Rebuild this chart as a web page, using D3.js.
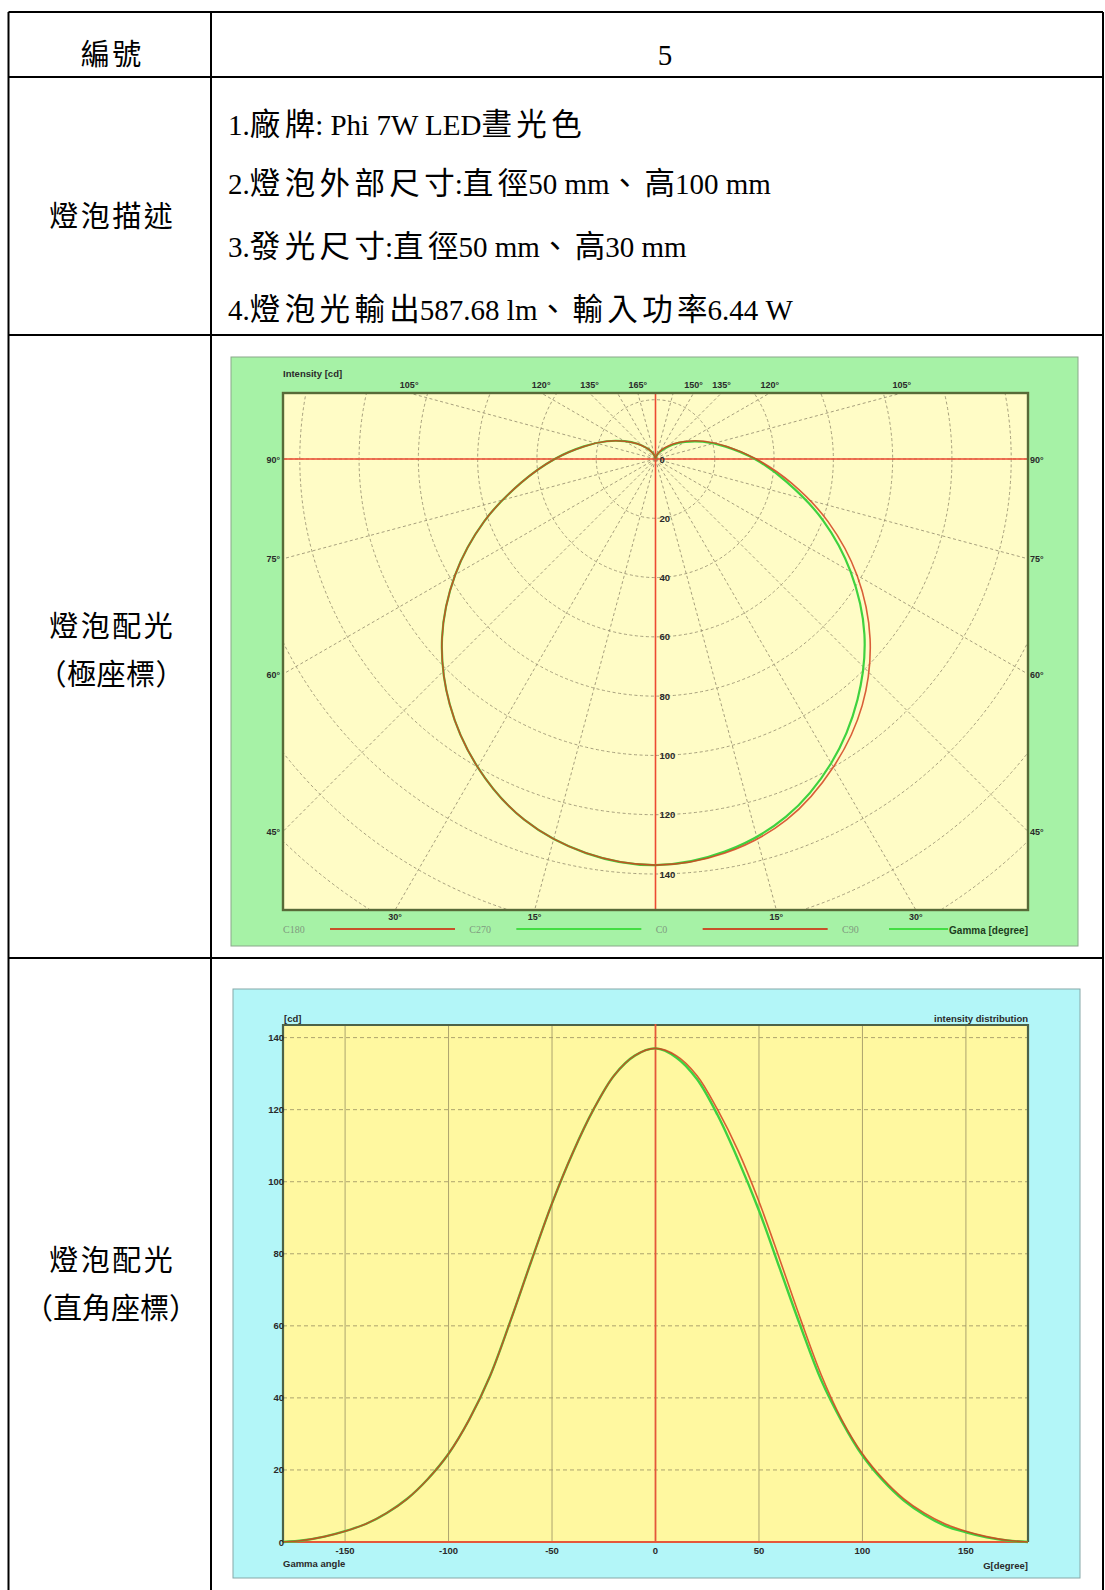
<!DOCTYPE html>
<html>
<head>
<meta charset="utf-8">
<script src="https://cdn.jsdelivr.net/npm/d3@7"></script>
<style>
  html, body { margin: 0; padding: 0; background: #ffffff; }
  svg { display: block; }
  .cell { font-family: "Liberation Serif", "Noto Sans CJK TC", serif; fill: #000; }
  .lab  { font-family: "Liberation Sans", Arial, sans-serif; font-weight: bold; fill: #2a2a2a; }
</style>
</head>
<body>
<svg id="page" width="1105" height="1590"></svg>
<script>
// ---------- table content ----------
const numberLabel = "編號";
const numberValue = "5";
const descLabel = "燈泡描述";
const descLines = [
  "1.廠牌: Phi 7W LED晝光色",
  "2.燈泡外部尺寸:直徑50 mm、高100 mm",
  "3.發光尺寸:直徑50 mm、高30 mm",
  "4.燈泡光輸出587.68 lm、輸入功率6.44 W"
];
const polarRowLabel = ["燈泡配光", "（極座標）"];
const cartRowLabel = ["燈泡配光", "（直角座標）"];

// ---------- luminous intensity (cd) vs gamma angle (deg) ----------
const gammaAngles   = [0, 10, 20, 30, 40, 50, 60, 70, 80, 90, 100, 110, 120, 130, 140, 150, 160, 170, 180];
const intensityC0   = [137, 135, 129.5, 120, 108.5, 94.5, 78.5, 62, 46.5, 34, 24.5, 17.5, 12, 8, 5, 3, 1.5, 0.5, 0];
const intensityC180 = [137, 135, 129.5, 120, 108, 94, 78, 61.5, 46, 34, 24.5, 17.5, 12, 8, 5, 3, 1.5, 0.5, 0];
const intensityC90  = [137, 134.5, 128.5, 118.5, 106, 92, 76, 60, 45, 33.5, 24, 17, 11.5, 7.5, 4.5, 2.7, 1.3, 0.4, 0];
const intensityC270 = [137, 135, 129.5, 120, 108, 94, 78, 61.5, 46, 34, 24.5, 17.5, 12, 8, 5, 3, 1.5, 0.5, 0];

// polar chart ticks
const radialTicks = [0, 20, 40, 60, 80, 100, 120, 140];
const gridRadii = [20, 40, 60, 80, 100, 120, 140, 160, 180, 200];
const spokeAngles = d3.range(0, 360, 15);
const leftEdgeAngles = [90, 75, 60, 45];
const bottomAngles = [30, 15];
const topLeftAngles = [105, 120, 135, 165];
const topRightAngles = [150, 135, 120, 105];
const legendItems = [
  { name: "C180", plane: "red" },
  { name: "C270", plane: "green" },
  { name: "C0",   plane: "red" },
  { name: "C90",  plane: "green" }
];

// cartesian chart ticks
const xTicks = [-150, -100, -50, 0, 50, 100, 150];
const yTicks = [0, 20, 40, 60, 80, 100, 120, 140];

const RED = "#d2421e", GREEN = "#3fd23f";

const svg = d3.select("#page");

// ---------- table grid ----------
const T = { left: 8.5, right: 1103, top: 12, col: 211, rows: [77, 335, 958], bottom: 1590 };
const grid = svg.append("g").attr("stroke", "#000").attr("stroke-width", 2);
grid.append("line").attr("x1", T.left).attr("x2", T.right).attr("y1", T.top).attr("y2", T.top);
T.rows.forEach(y => grid.append("line").attr("x1", T.left).attr("x2", T.right).attr("y1", y).attr("y2", y));
[T.left, T.col, T.right].forEach(x => grid.append("line").attr("x1", x).attr("x2", x).attr("y1", T.top).attr("y2", T.bottom));

// Latin and CJK runs are set separately: CJK slightly larger and tracked out
// between its own glyphs, Latin at the body size.
const FS = 29;
const IS_CJK = /[\u3000-\u9fff\uff00-\uffef]/;
const RUNS = /[\u3000-\u9fff\uff00-\uffef]+|[^\u3000-\u9fff\uff00-\uffef]+/g;
function cellText(x, y, str, anchor, cjkSize, track) {
  const t = svg.append("text").attr("class", "cell").attr("x", x).attr("y", y)
    .attr("font-size", FS).attr("text-anchor", anchor || "middle");
  str.match(RUNS).forEach(run => {
    if (!IS_CJK.test(run)) { t.append("tspan").text(run); return; }
    const chars = Array.from(run);
    if (chars.length > 1) {
      t.append("tspan").attr("font-size", cjkSize).attr("letter-spacing", track).text(chars.slice(0, -1).join(""));
    }
    t.append("tspan").attr("font-size", cjkSize).text(chars[chars.length - 1]);
  });
}
cellText(111, 65, numberLabel, "middle", 29, 2.5);
cellText(665, 65, numberValue);
cellText(111, 227, descLabel, "middle", 29, 2.5);
descLines.forEach((s, i) => cellText(228, [134.5, 194, 256.5, 319.5][i], s, "start", 30.5, 4.4));
cellText(111, 637, polarRowLabel[0], "middle", 29, 2.5);
cellText(111, 685, polarRowLabel[1], "middle", 29, 0.5);
cellText(111, 1271, cartRowLabel[0], "middle", 29, 2.5);
cellText(111, 1319, cartRowLabel[1], "middle", 29, 0);

// a whole C-plane: negative gamma from the first half-plane, positive from the second
function planeSeries(neg, pos) {
  const left = gammaAngles.slice(1).map((a, i) => [-a, neg[i + 1]]).reverse();
  const right = gammaAngles.map((a, i) => [a, pos[i]]);
  return left.concat(right);
}

// ---------- polar intensity diagram ----------
(function () {
  const panel = { x0: 231, x1: 1078, y0: 357, y1: 946 };
  const P = { x0: 283, x1: 1028, y0: 393, y1: 910 };
  const cx = (P.x0 + P.x1) / 2, cy = 459;
  const r = d3.scaleLinear().domain([0, 140]).range([0, 415]);
  const g = svg.append("g");

  g.append("rect").attr("x", panel.x0).attr("y", panel.y0)
    .attr("width", panel.x1 - panel.x0).attr("height", panel.y1 - panel.y0)
    .attr("fill", "#a6f2a6").attr("stroke", "#8aa88a").attr("stroke-width", 1);
  g.append("rect").attr("x", P.x0).attr("y", P.y0).attr("width", P.x1 - P.x0).attr("height", P.y1 - P.y0)
    .attr("fill", "#fffcc6");

  svg.append("defs").append("clipPath").attr("id", "polarClip")
    .append("rect").attr("x", P.x0).attr("y", P.y0).attr("width", P.x1 - P.x0).attr("height", P.y1 - P.y0);
  const inner = g.append("g").attr("clip-path", "url(#polarClip)");

  // concentric intensity circles
  inner.selectAll("circle.grid").data(gridRadii).join("circle")
    .attr("cx", cx).attr("cy", cy).attr("r", d => r(d))
    .attr("fill", "none").attr("stroke", "#9c9474").attr("stroke-width", 0.9).attr("stroke-dasharray", "3,2.5");
  // gamma spokes
  inner.selectAll("line.spoke").data(spokeAngles).join("line")
    .attr("x1", cx).attr("y1", cy)
    .attr("x2", d => cx + 1200 * Math.sin(d * Math.PI / 180))
    .attr("y2", d => cy + 1200 * Math.cos(d * Math.PI / 180))
    .attr("stroke", "#9c9474").attr("stroke-width", 0.9).attr("stroke-dasharray", "3,2.5");

  // red axes
  inner.append("line").attr("x1", P.x0).attr("x2", P.x1).attr("y1", cy).attr("y2", cy)
    .attr("stroke", "#ec4a32").attr("stroke-width", 1.6);
  inner.append("line").attr("x1", cx).attr("x2", cx).attr("y1", P.y0).attr("y2", P.y1)
    .attr("stroke", "#ec4a32").attr("stroke-width", 1.6);

  // intensity curves, gamma measured from nadir, one continuous path per C-plane
  const rad = a => a * Math.PI / 180;
  const radial = d3.lineRadial()
    .angle(d => Math.PI - rad(d[0]))
    .radius(d => r(d[1]))
    .curve(d3.curveCatmullRom.alpha(0.5));
  const curves = inner.append("g").attr("transform", `translate(${cx},${cy})`).attr("fill", "none");
  curves.append("path").attr("d", radial(planeSeries(intensityC270, intensityC90)))
    .attr("stroke", GREEN).attr("stroke-width", 2.2);
  curves.append("path").attr("d", radial(planeSeries(intensityC180, intensityC0)))
    .attr("stroke", RED).attr("stroke-width", 1.6).attr("opacity", 0.85);

  g.append("rect").attr("x", P.x0).attr("y", P.y0).attr("width", P.x1 - P.x0).attr("height", P.y1 - P.y0)
    .attr("fill", "none").attr("stroke", "#586a38").attr("stroke-width", 2.4);

  // radial value labels
  g.selectAll("text.rv").data(radialTicks).join("text").attr("class", "lab")
    .attr("font-size", 9.5).attr("x", cx + 4).attr("y", d => cy + r(d) + 3.5).text(d => d);

  // gamma labels where the spokes meet the frame
  function hit(a, side) {
    const dx = side * Math.sin(rad(a)), dy = Math.cos(rad(a));
    const ts = [];
    if (dx > 1e-9) ts.push((P.x1 - cx) / dx);
    if (dx < -1e-9) ts.push((P.x0 - cx) / dx);
    if (dy > 1e-9) ts.push((P.y1 - cy) / dy);
    if (dy < -1e-9) ts.push((P.y0 - cy) / dy);
    const t = Math.min(...ts);
    return [cx + t * dx, cy + t * dy];
  }
  const deg = d => d + "°";
  leftEdgeAngles.forEach(a => {
    const [, y] = hit(a, -1);
    g.append("text").attr("class", "lab").attr("font-size", 9).attr("text-anchor", "end")
      .attr("x", P.x0 - 3).attr("y", y + 3.5).text(deg(a));
    const [, y2] = hit(a, 1);
    g.append("text").attr("class", "lab").attr("font-size", 9).attr("text-anchor", "start")
      .attr("x", P.x1 + 2).attr("y", y2 + 3.5).text(deg(a));
  });
  [-1, 1].forEach(side => bottomAngles.forEach(a => {
    const [x] = hit(a, side);
    g.append("text").attr("class", "lab").attr("font-size", 9).attr("text-anchor", "middle")
      .attr("x", x).attr("y", P.y1 + 10).text(deg(a));
  }));
  topLeftAngles.forEach(a => {
    const [x] = hit(a, -1);
    g.append("text").attr("class", "lab").attr("font-size", 9).attr("text-anchor", "middle")
      .attr("x", x).attr("y", P.y0 - 5).text(deg(a));
  });
  topRightAngles.forEach(a => {
    const [x] = hit(a, 1);
    g.append("text").attr("class", "lab").attr("font-size", 9).attr("text-anchor", "middle")
      .attr("x", x).attr("y", P.y0 - 5).text(deg(a));
  });

  g.append("text").attr("class", "lab").attr("font-size", 9.5).attr("x", P.x0).attr("y", 377).text("Intensity [cd]");

  // legend
  const lx = d3.scalePoint().domain(legendItems.map(d => d.name)).range([283, 842]);
  legendItems.forEach(d => {
    const x = lx(d.name);
    g.append("line").attr("x1", x + 47).attr("x2", x + 172).attr("y1", 929).attr("y2", 929)
      .attr("stroke", d.plane === "red" ? "#c8502a" : "#44dd44").attr("stroke-width", 1.8);
    g.append("text").attr("x", x).attr("y", 933).attr("font-size", 10)
      .attr("font-family", "Liberation Serif, serif").attr("fill", "#7f9a7f").text(d.name);
  });
  const gt = g.append("text").attr("class", "lab").attr("font-size", 10).attr("text-anchor", "end")
    .attr("x", P.x1).attr("y", 934).style("fill", "#1d3d1d").text("Gamma [degree]");
  const bb = gt.node().getBBox();
  g.insert("rect", () => gt.node()).attr("x", bb.x - 1).attr("y", bb.y).attr("width", bb.width + 2).attr("height", bb.height)
    .attr("fill", "#a6f2a6");
})();

// ---------- cartesian intensity distribution ----------
(function () {
  const panel = { x0: 233, x1: 1080, y0: 989, y1: 1578 };
  const P = { x0: 283, x1: 1028, y0: 1025, y1: 1542 };
  const x = d3.scaleLinear().domain([-180, 180]).range([P.x0, P.x1]);
  const y = d3.scaleLinear().domain([0, 143.5]).range([P.y1, P.y0]);
  const g = svg.append("g");

  g.append("rect").attr("x", panel.x0).attr("y", panel.y0)
    .attr("width", panel.x1 - panel.x0).attr("height", panel.y1 - panel.y0)
    .attr("fill", "#b3f6f8").attr("stroke", "#86a8a8").attr("stroke-width", 1);
  g.append("rect").attr("x", P.x0).attr("y", P.y0).attr("width", P.x1 - P.x0).attr("height", P.y1 - P.y0)
    .attr("fill", "#fff8a0");

  // grid
  g.selectAll("line.vg").data(xTicks.filter(d => d !== 0)).join("line")
    .attr("x1", d => x(d)).attr("x2", d => x(d)).attr("y1", P.y0).attr("y2", P.y1)
    .attr("stroke", "#a39a68").attr("stroke-width", 0.9);
  g.selectAll("line.hg").data(yTicks.filter(d => d !== 0)).join("line")
    .attr("x1", P.x0).attr("x2", P.x1).attr("y1", d => y(d)).attr("y2", d => y(d))
    .attr("stroke", "#a39a68").attr("stroke-width", 0.9).attr("stroke-dasharray", "4,3");

  // frame
  g.append("path").attr("d", `M${P.x0},${P.y1}V${P.y0}H${P.x1}V${P.y1}`)
    .attr("fill", "none").attr("stroke", "#4c6248").attr("stroke-width", 2.2);
  g.append("line").attr("x1", P.x0).attr("x2", P.x1).attr("y1", y(0)).attr("y2", y(0))
    .attr("stroke", "#e4583a").attr("stroke-width", 2);
  g.append("line").attr("x1", x(0)).attr("x2", x(0)).attr("y1", P.y0 - 1).attr("y2", P.y1)
    .attr("stroke", "#e4583a").attr("stroke-width", 1.8);

  const line = d3.line().x(d => x(d[0])).y(d => y(d[1])).curve(d3.curveCatmullRom.alpha(0.5));
  g.append("path").attr("d", line(planeSeries(intensityC270, intensityC90)))
    .attr("fill", "none").attr("stroke", GREEN).attr("stroke-width", 2.4);
  g.append("path").attr("d", line(planeSeries(intensityC180, intensityC0)))
    .attr("fill", "none").attr("stroke", RED).attr("stroke-width", 1.6).attr("opacity", 0.85);

  // tick labels
  g.selectAll("text.yt").data(yTicks).join("text").attr("class", "lab")
    .attr("font-size", 9.5).attr("text-anchor", "end").attr("x", P.x0 + 1).attr("y", d => y(d) + 3.5).text(d => d);
  g.selectAll("text.xt").data(xTicks).join("text").attr("class", "lab")
    .attr("font-size", 9.5).attr("text-anchor", "middle").attr("x", d => x(d)).attr("y", P.y1 + 12).text(d => d);

  g.append("text").attr("class", "lab").attr("font-size", 9.5).attr("x", P.x0 + 1).attr("y", P.y0 - 3).text("[cd]");
  g.append("text").attr("class", "lab").attr("font-size", 9.5).attr("text-anchor", "end")
    .attr("x", P.x1).attr("y", P.y0 - 3).text("intensity distribution");
  g.append("text").attr("class", "lab").attr("font-size", 9.5).attr("x", P.x0).attr("y", P.y1 + 25).text("Gamma angle");
  g.append("text").attr("class", "lab").attr("font-size", 9.5).attr("text-anchor", "end")
    .attr("x", P.x1).attr("y", P.y1 + 27).text("G[degree]");
})();
</script>
</body>
</html>
